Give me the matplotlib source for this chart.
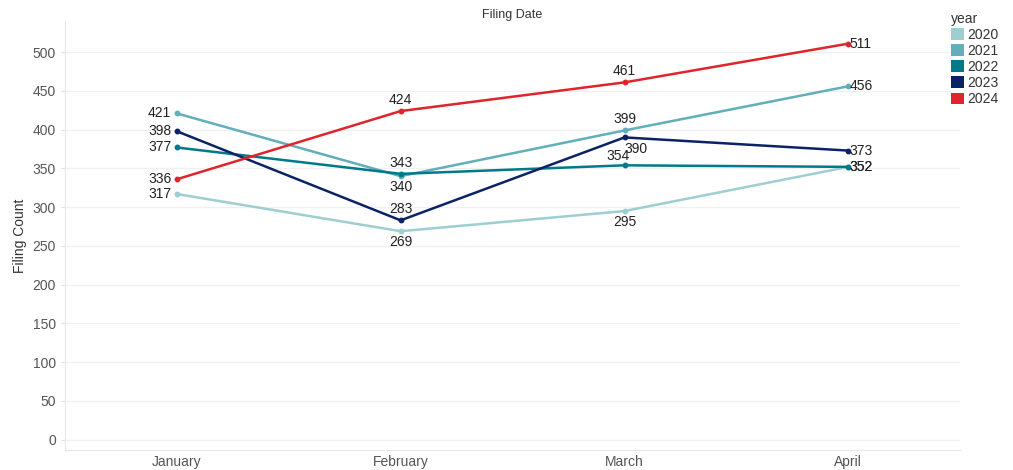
import numpy as np
import matplotlib.pyplot as plt
from matplotlib.patches import Patch

plt.rcParams.update({
    "font.family": ["Liberation Sans", "DejaVu Sans"],
    "figure.dpi": 100,
})

# ── data ────────────────────────────────────────────────────────
months = ["January", "February", "March", "April"]
years = ["2020", "2021", "2022", "2023", "2024"]
counts_2020 = [317, 269, 295, 352]
counts_2021 = [421, 340, 399, 456]
counts_2022 = [377, 343, 354, 352]
counts_2023 = [398, 283, 390, 373]
counts_2024 = [336, 424, 461, 511]
series = [counts_2020, counts_2021, counts_2022, counts_2023, counts_2024]
colors = ["#9dcfd1", "#62aebb", "#00798a", "#0b2265", "#e0242b"]

# label placement per point: (dx, dy, ha, va) in points
L = (-4, 0, "right", "center")
R = (1, 0, "left", "center")
A = (0, 3, "center", "bottom")
B = (0, -3, "center", "top")
placements = [
    [L, B, B, R],
    [L, B, A, R],
    [L, A, (-5, 2, "center", "bottom"), R],
    [L, A, (8, -3, "center", "top"), R],
    [L, A, A, R],
]

fig, ax = plt.subplots(figsize=(10.13, 4.70))
fig.subplots_adjust(left=0.064, right=0.948, top=0.955, bottom=0.043)

x = np.arange(len(months))
for vals, col, places in zip(series, colors, placements):
    ax.plot(x, vals, color=col, lw=1.8, marker="o", ms=3.2, zorder=3)
    for xi, v, (dx, dy, ha, va) in zip(x, vals, places):
        ax.annotate(str(v), (xi, v), xytext=(dx, dy), textcoords="offset points",
                    ha=ha, va=va, fontsize=10, color="#222222", zorder=4)

ax.set_xlim(-0.5, 3.5)
ax.set_ylim(-13, 540)
ax.set_xticks(x)
ax.set_xticklabels(months)
ax.set_yticks(np.arange(0, 501, 50))
ax.grid(axis="y", color="#f0f0f0", lw=1)
ax.set_axisbelow(True)
for s in ["top", "right"]:
    ax.spines[s].set_visible(False)
for s in ["left", "bottom"]:
    ax.spines[s].set_color("#e8e8e8")
ax.tick_params(axis="both", colors="#e0e0e0", labelcolor="#555555", labelsize=10, length=3)
ax.tick_params(axis="x", length=0)
ax.set_ylabel("Filing Count", fontsize=10, color="#333333", labelpad=4)
ax.set_title("Filing Date", fontsize=9, color="#333333", pad=0)

handles = [Patch(facecolor=c, edgecolor="none") for c in colors]
leg = fig.legend(handles, years, title="year", loc="upper left", bbox_to_anchor=(0.932, 0.99),
                 frameon=False, fontsize=10, title_fontsize=10, handlelength=0.9,
                 handleheight=0.9, handletextpad=0.3, labelspacing=0.15, borderpad=0)
leg._legend_box.align = "left"
for t in leg.get_texts():
    t.set_color("#333333")
leg.get_title().set_color("#333333")

fig.savefig("out.png")
